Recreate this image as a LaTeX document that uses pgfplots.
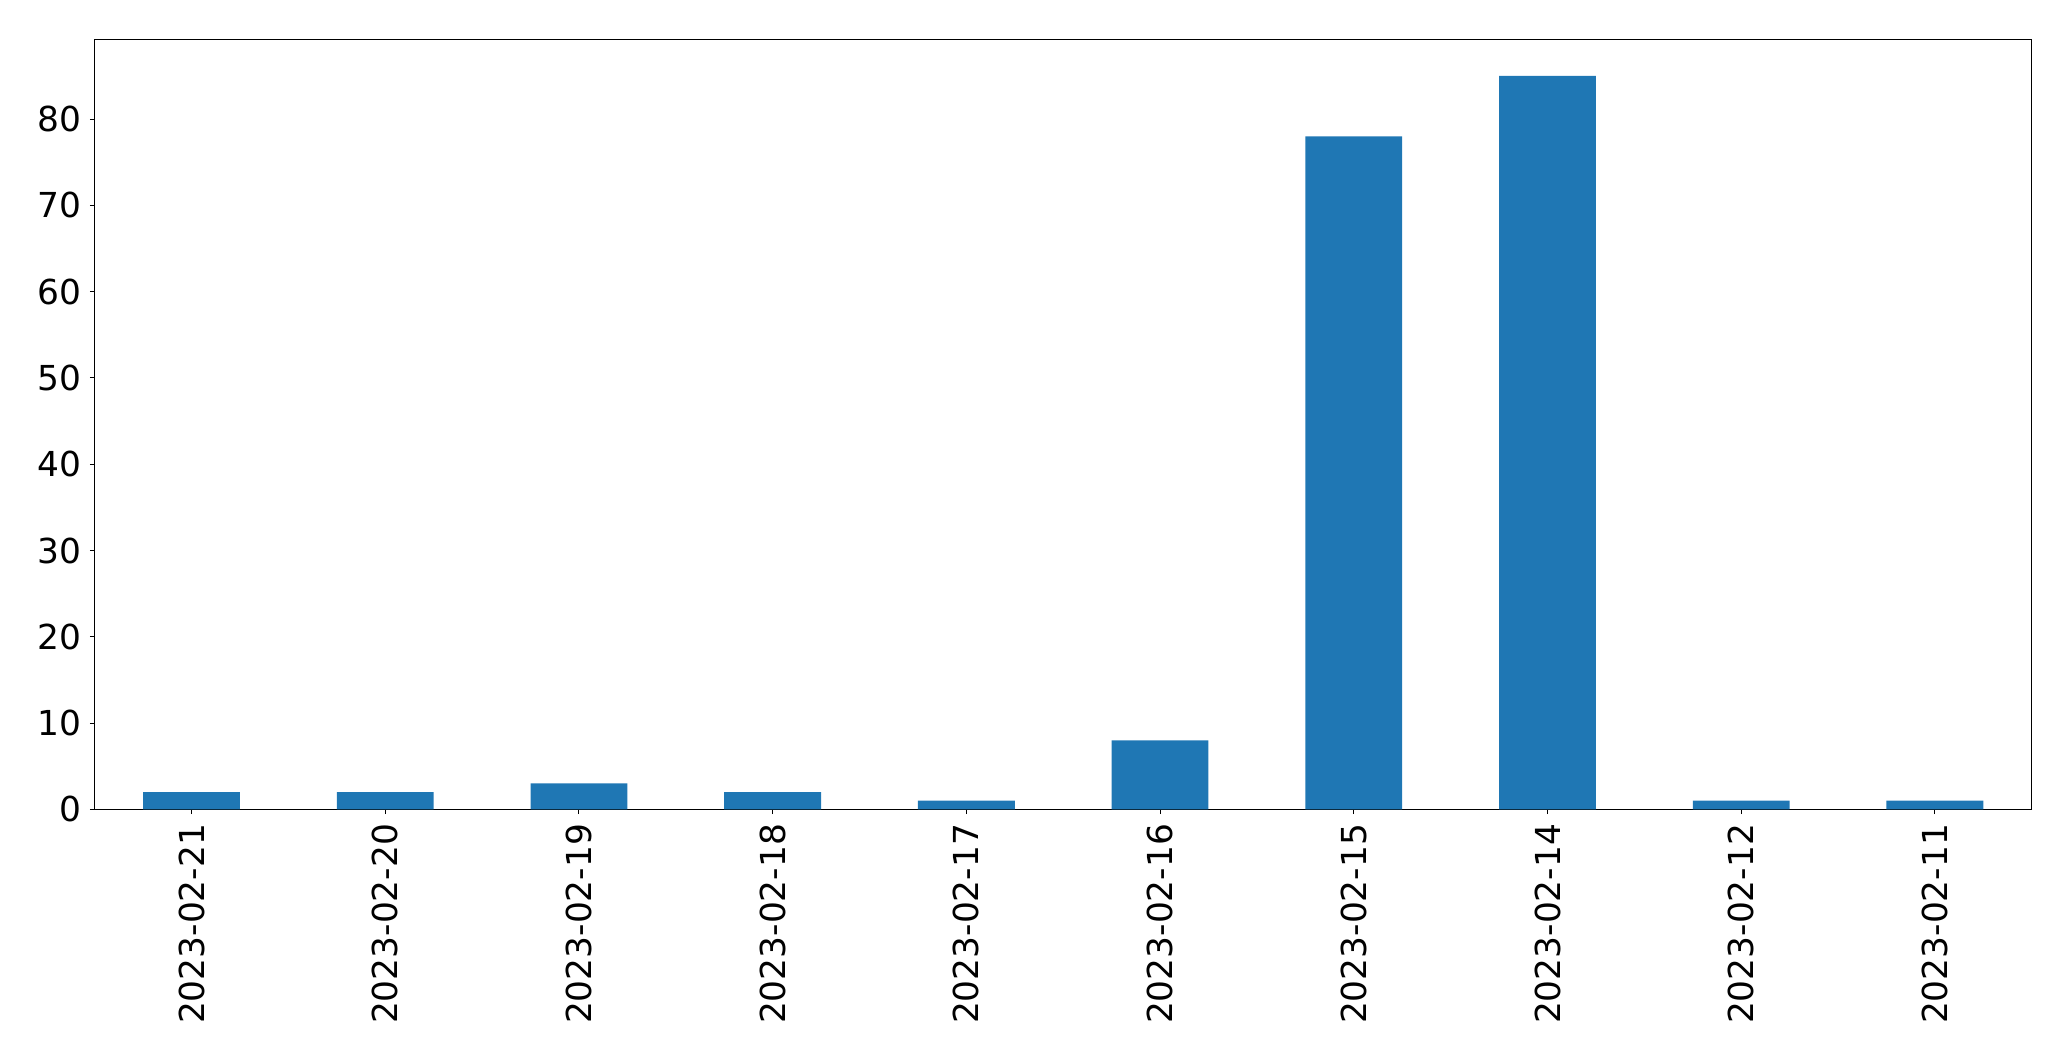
\documentclass[border=0pt]{standalone}
\usepackage{pgfplots}
\pgfplotsset{compat=1.18}
\usepackage{fontspec}
\setmainfont{DejaVu Sans}
\definecolor{mplblue}{HTML}{1F77B4}
\begin{document}
\fontsize{17.2pt}{20pt}\selectfont
\begin{tikzpicture}
\begin{axis}[
  scale only axis,
  width=968.5pt, height=385pt,
  xmin=-0.5, xmax=9.5,
  ymin=0, ymax=89.25,
  xtick={0,...,9},
  xticklabels={2023-02-21,2023-02-20,2023-02-19,2023-02-18,2023-02-17,2023-02-16,2023-02-15,2023-02-14,2023-02-12,2023-02-11},
  x tick label style={rotate=90, anchor=east, yshift=0pt},
  ytick={0,10,...,80},
  tick align=outside,
  tick pos=left,
  major tick length=2.35pt,
  tick style={black, line width=0.5pt},
  axis line style={line width=0.5pt},
  every axis/.append style={line width=0.5pt},
  /pgf/number format/assume math mode=true,
  ticklabel style={font=\fontsize{17.2pt}{20pt}\selectfont},
  xticklabel style={inner sep=0pt, outer sep=0pt, xshift=0pt},
  yticklabel style={inner sep=0pt, xshift=-4.2pt},
  xticklabel shift=5pt,
]
\addplot[ybar, bar width=0.5, fill=mplblue, draw=none] coordinates {
(0,2) (1,2) (2,3) (3,2) (4,1) (5,8) (6,78) (7,85) (8,1) (9,1)
};
\end{axis}
\pgfresetboundingbox
\path[use as bounding box] (-47.35pt,-125.85pt) rectangle (988.15pt,404.65pt);
\end{tikzpicture}
\end{document}
